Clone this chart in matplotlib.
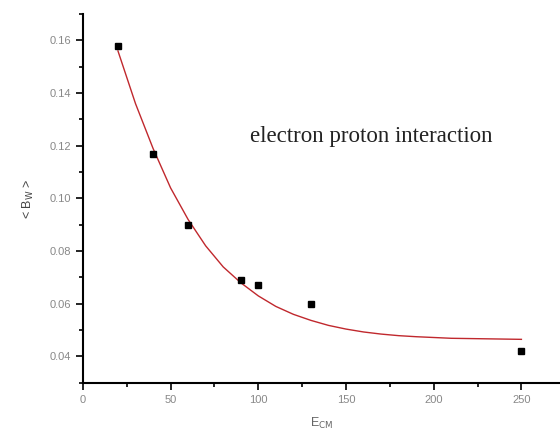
import numpy as np
import matplotlib
matplotlib.use("Agg")
from matplotlib import pyplot as plt
from matplotlib.ticker import MultipleLocator

# measured points
e_cm = [20, 40, 60, 90, 100, 130, 250]
b_w = [0.158, 0.117, 0.090, 0.069, 0.067, 0.060, 0.042]

# fitted curve
fit_x = [20, 30, 40, 50, 60, 70, 80, 90, 100, 110, 120, 130, 140, 150,
         160, 170, 180, 190, 200, 210, 220, 230, 240, 250]
fit_y = [0.156, 0.136, 0.119, 0.104, 0.092, 0.082, 0.074, 0.068, 0.063,
         0.059, 0.056, 0.0537, 0.0518, 0.0504, 0.0493, 0.0485, 0.0479,
         0.0475, 0.0472, 0.0469, 0.0468, 0.0467, 0.0466, 0.0465]

plt.rcParams['font.family'] = ['Liberation Sans', 'DejaVu Sans']

fig = plt.figure(figsize=(5.6, 4.4), dpi=100)
ax = fig.add_axes([0.148, 0.13, 0.852, 0.838])

ax.plot(fit_x, fit_y, color="#c0282d", lw=1.0)
ax.plot(e_cm, b_w, "s", color="black", ms=5)

ax.set_xlim(0, 272)
ax.set_ylim(0.03, 0.17)
ax.xaxis.set_major_locator(MultipleLocator(50))
ax.xaxis.set_minor_locator(MultipleLocator(25))
ax.yaxis.set_major_locator(MultipleLocator(0.02))
ax.yaxis.set_minor_locator(MultipleLocator(0.01))
ax.yaxis.set_major_formatter(matplotlib.ticker.FormatStrFormatter("%.2f"))

for s in ["top", "right"]:
    ax.spines[s].set_visible(False)
for s in ["left", "bottom"]:
    ax.spines[s].set_linewidth(1.5)

ax.tick_params(which="major", length=5, width=1.2, labelsize=8, labelcolor="#888888")
ax.tick_params(which="minor", length=3, width=1.2)

ax.set_xlabel(r"E$_{\mathrm{CM}}$", fontsize=9, color="#666666", labelpad=8)
ax.set_ylabel(r"< B$_{\mathrm{W}}$ >", fontsize=9, color="#444444", labelpad=10)

ax.text(0.35, 0.667, "electron proton interaction", transform=ax.transAxes,
        family="Liberation Serif", fontsize=16.5, color="#222222", va="center")

fig.savefig("out.png", dpi=100)
